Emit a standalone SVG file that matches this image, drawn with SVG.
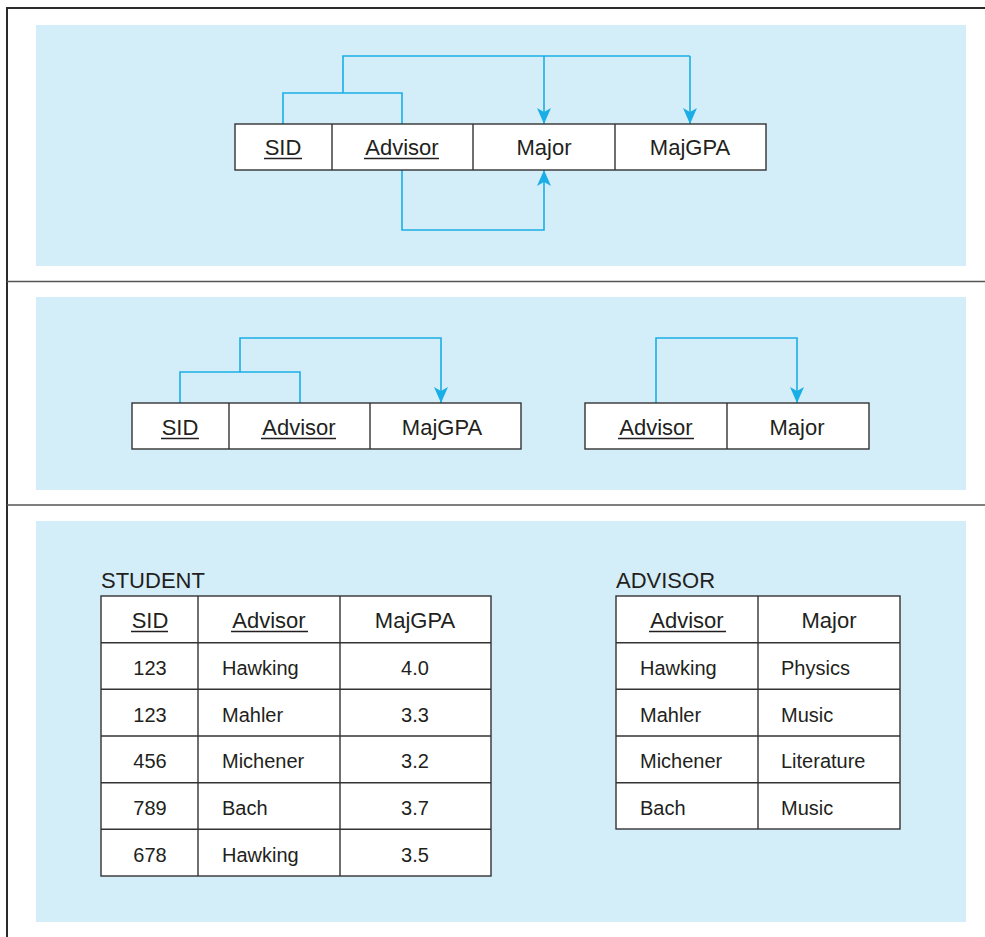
<svg xmlns="http://www.w3.org/2000/svg" width="985" height="937" viewBox="0 0 985 937">
<defs>
<style>
.bg{fill:#d4eef9}
.frame{stroke:#2b2b2b;stroke-width:2;fill:none}
.sep{stroke:#555;stroke-width:1.5;fill:none}
.cell{fill:#fff;stroke:#333;stroke-width:1.4}
.div{stroke:#333;stroke-width:1.4}
.t{font-family:"Liberation Sans",Arial,sans-serif;fill:#231f20}
.h{font-size:22px}
.d{font-size:20px}
.c{text-anchor:middle}
.ul{stroke:#231f20;stroke-width:1.4}
.con{stroke:#1aaee6;stroke-width:1.6;fill:none}
</style>
<marker id="ah" viewBox="0 0 16 14" refX="16" refY="7" markerWidth="16" markerHeight="14" markerUnits="userSpaceOnUse" orient="auto">
<path d="M0,0 L16,7 L0,14 L4,7 Z" fill="#1aaee6"/>
</marker>
</defs>
<rect width="985" height="937" fill="#fff"/>
<path class="frame" d="M7,937 V8 H985"/>
<line class="sep" x1="7" y1="281.5" x2="985" y2="281.5"/>
<line class="sep" x1="7" y1="505" x2="985" y2="505"/>
<rect class="bg" x="36" y="25" width="930" height="241"/>
<rect class="bg" x="36" y="297" width="930" height="193"/>
<rect class="bg" x="36" y="521" width="930" height="401"/>

<g id="connectors">
<path class="con" d="M283,124 V93 H402 V124"/>
<path class="con" d="M343,93 V56 H690"/>
<path class="con" d="M544,56 V124" marker-end="url(#ah)"/>
<path class="con" d="M690,56 V124" marker-end="url(#ah)"/>
<path class="con" d="M402,170 V230 H544 V170" marker-end="url(#ah)"/>
<path class="con" d="M180,403 V372 H300 V403"/>
<path class="con" d="M240,372 V338 H441 V403" marker-end="url(#ah)"/>
<path class="con" d="M656,403 V338 H797 V403" marker-end="url(#ah)"/>
</g>

<g id="relation1">
<rect class="cell" x="235" y="124" width="531" height="46"/>
<line class="div" x1="332" y1="124" x2="332" y2="170"/>
<line class="div" x1="473" y1="124" x2="473" y2="170"/>
<line class="div" x1="615" y1="124" x2="615" y2="170"/>
<text class="t h c" x="283" y="155">SID</text>
<line class="ul" x1="264" y1="158.5" x2="302" y2="158.5"/>
<text class="t h c" x="402" y="155">Advisor</text>
<line class="ul" x1="364" y1="158.5" x2="439" y2="158.5"/>
<text class="t h c" x="544" y="155">Major</text>
<text class="t h c" x="690" y="155">MajGPA</text>
</g>

<g id="relation2">
<rect class="cell" x="132" y="403" width="389" height="46"/>
<line class="div" x1="229" y1="403" x2="229" y2="449"/>
<line class="div" x1="370" y1="403" x2="370" y2="449"/>
<text class="t h c" x="180" y="435">SID</text>
<line class="ul" x1="161" y1="438.5" x2="199" y2="438.5"/>
<text class="t h c" x="299" y="435">Advisor</text>
<line class="ul" x1="261" y1="438.5" x2="336" y2="438.5"/>
<text class="t h c" x="442" y="435">MajGPA</text>
</g>

<g id="relation3">
<rect class="cell" x="585" y="403" width="284" height="46"/>
<line class="div" x1="727" y1="403" x2="727" y2="449"/>
<text class="t h c" x="656" y="435">Advisor</text>
<line class="ul" x1="618" y1="438.5" x2="694" y2="438.5"/>
<text class="t h c" x="797" y="435">Major</text>
</g>

<g id="student">
<text class="t h" x="101" y="588">STUDENT</text>
<rect class="cell" x="101" y="596" width="390" height="280"/>
<line class="div" x1="198" y1="596" x2="198" y2="876"/>
<line class="div" x1="340" y1="596" x2="340" y2="876"/>
<line class="div" x1="101" y1="642.7" x2="491" y2="642.7"/>
<line class="div" x1="101" y1="689.3" x2="491" y2="689.3"/>
<line class="div" x1="101" y1="736" x2="491" y2="736"/>
<line class="div" x1="101" y1="782.7" x2="491" y2="782.7"/>
<line class="div" x1="101" y1="829.3" x2="491" y2="829.3"/>
<text class="t h c" x="150" y="628">SID</text>
<line class="ul" x1="131" y1="631.5" x2="168" y2="631.5"/>
<text class="t h c" x="269" y="628">Advisor</text>
<line class="ul" x1="231" y1="631.5" x2="308" y2="631.5"/>
<text class="t h c" x="415" y="628">MajGPA</text>
<g class="t d">
<text class="c" x="150" y="675">123</text><text x="222" y="675">Hawking</text><text class="c" x="415" y="675">4.0</text>
<text class="c" x="150" y="722">123</text><text x="222" y="722">Mahler</text><text class="c" x="415" y="722">3.3</text>
<text class="c" x="150" y="768">456</text><text x="222" y="768">Michener</text><text class="c" x="415" y="768">3.2</text>
<text class="c" x="150" y="815">789</text><text x="222" y="815">Bach</text><text class="c" x="415" y="815">3.7</text>
<text class="c" x="150" y="862">678</text><text x="222" y="862">Hawking</text><text class="c" x="415" y="862">3.5</text>
</g>
</g>

<g id="advisor">
<text class="t h" x="616" y="588">ADVISOR</text>
<rect class="cell" x="616" y="596" width="284" height="233"/>
<line class="div" x1="758" y1="596" x2="758" y2="829"/>
<line class="div" x1="616" y1="642.7" x2="900" y2="642.7"/>
<line class="div" x1="616" y1="689.3" x2="900" y2="689.3"/>
<line class="div" x1="616" y1="736" x2="900" y2="736"/>
<line class="div" x1="616" y1="782.7" x2="900" y2="782.7"/>
<text class="t h c" x="687" y="628">Advisor</text>
<line class="ul" x1="649" y1="631.5" x2="726" y2="631.5"/>
<text class="t h c" x="829" y="628">Major</text>
<g class="t d">
<text x="640" y="675">Hawking</text><text x="781" y="675">Physics</text>
<text x="640" y="722">Mahler</text><text x="781" y="722">Music</text>
<text x="640" y="768">Michener</text><text x="781" y="768">Literature</text>
<text x="640" y="815">Bach</text><text x="781" y="815">Music</text>
</g>
</g>
</svg>
